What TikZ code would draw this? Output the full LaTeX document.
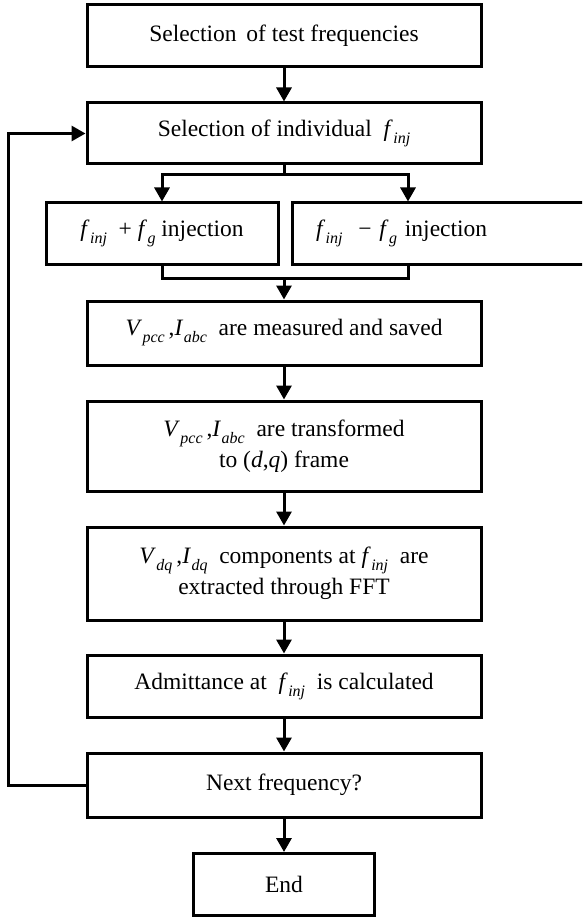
\documentclass[tikz,border=0pt]{standalone}
\usepackage{fontspec}
\setmainfont{Liberation Serif}
\usetikzlibrary{arrows.meta}
\newcommand\vsub[2]{\textit{#1}\kern0.5pt\raisebox{-0.3em}{\fontsize{16}{16}\selectfont\textit{#2}}}
\begin{document}
\begin{tikzpicture}[x=1pt,y=-1pt,line width=3pt,
  box/.style={draw,line width=3pt,inner sep=0pt,align=center,
    font=\fontsize{23.5}{31}\selectfont},
  arr/.style={-{Triangle[length=14pt,width=15pt]}}]
\useasboundingbox (0,0) rectangle (582,917);
\clip (0,0) rectangle (582,917);
\node[box,minimum width=394pt,minimum height=62pt] (b1) at (284,36) {Selection\, of test frequencies};
\node[box,minimum width=394pt,minimum height=61pt] (b2) at (284,133.5) {Selection of individual~ \vsub{f}{inj}};
\node[box,minimum width=232pt,minimum height=61pt] (bl) at (162,233.5) {\vsub{f}{inj}~ + \vsub{f}{g} injection};
\node[box,minimum width=296pt,minimum height=61pt,text width=296pt,align=left] (br) at (440,233.5) {\hspace*{24pt}\vsub{f}{inj}~ − \vsub{f}{g} injection};
\node[box,minimum width=394pt,minimum height=64pt] (b3) at (284,333) {\vsub{V}{pcc}\,,\vsub{I}{abc}~ are measured and saved};
\node[box,minimum width=394pt,minimum height=90pt] (b4) at (284,446) {\vsub{V}{pcc}\,,\vsub{I}{abc}~ are transformed\\to (\textit{d},\textit{q}) frame};
\node[box,minimum width=394pt,minimum height=93pt] (b5) at (284,573.5) {\vsub{V}{dq}\,,\vsub{I}{dq}~ components at \vsub{f}{inj}~ are\\extracted through FFT};
\node[box,minimum width=394pt,minimum height=62pt] (b6) at (284,686) {Admittance at~ \vsub{f}{inj}~ is calculated};
\node[box,minimum width=394pt,minimum height=64pt] (b7) at (284,785) {Next frequency?};
\node[box,minimum width=181pt,minimum height=62pt] (b8) at (284,884.5) {End};
\coordinate (sp) at (284,175);
\coordinate (rt) at (408,175);
\coordinate (mg) at (284,278);
\coordinate (fb) at (8,0);
\draw[arr] (b1.south) -- (b2.north);
\draw (b2.south) -- (sp);
\draw[arr] (sp) -| (bl.north);
\draw[arr] (sp) -- (rt) -- (rt |- br.north);
\draw (bl.south) |- (mg);
\draw (rt |- br.south) |- (mg);
\draw[arr] (mg) -- (b3.north);
\draw[arr] (b3.south) -- (b4.north);
\draw[arr] (b4.south) -- (b5.north);
\draw[arr] (b5.south) -- (b6.north);
\draw[arr] (b6.south) -- (b7.north);
\draw[arr] (b7.south) -- (b8.north);
\draw[arr] (b7.west) -- (fb |- b7.west) -- (fb |- b2.west) -- (b2.west);
\end{tikzpicture}
\end{document}
